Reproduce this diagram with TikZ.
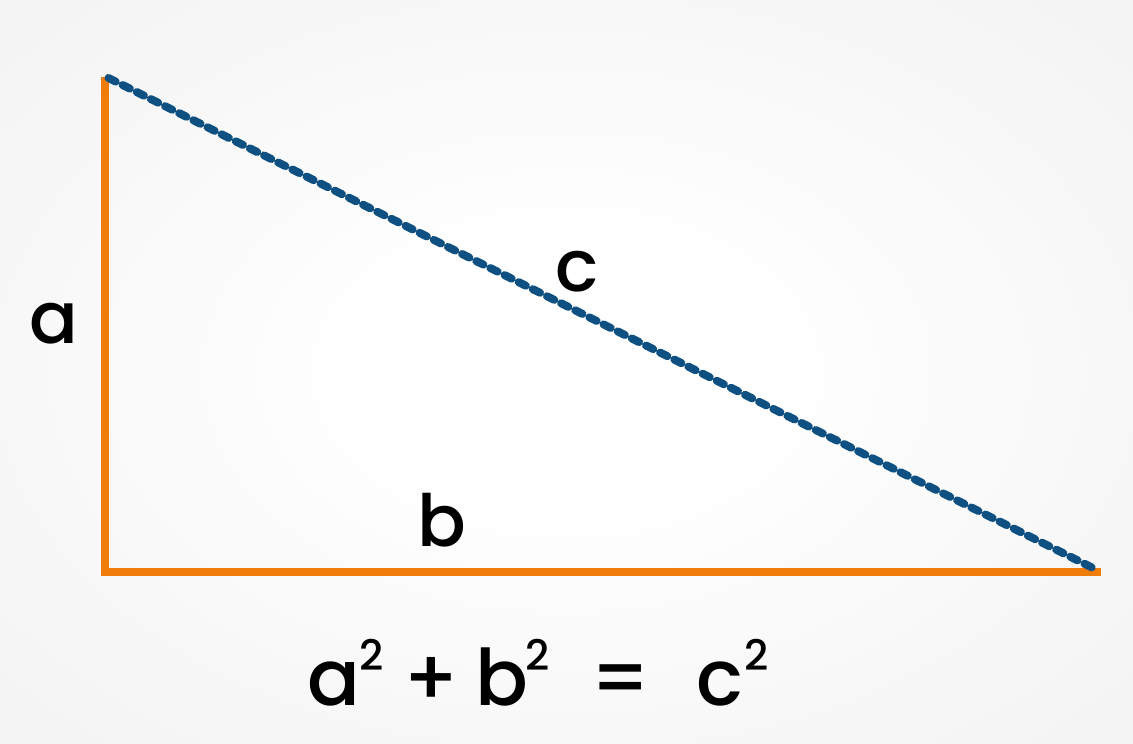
\documentclass[tikz,border=0pt]{standalone}
\usepackage{fontspec}
\setmainfont{Poppins}[UprightFont=* Medium]
\definecolor{legorange}{HTML}{F07D0A}
\definecolor{hypblue}{HTML}{0F5083}
\definecolor{bgedge}{HTML}{E8E8E8}
\pgfdeclareradialshading{bgshade}{\pgfpoint{0bp}{0bp}}{%
  color(0bp)=(white); color(8bp)=(white); color(50bp)=(bgedge!80!white); color(72bp)=(bgedge)}
\tikzset{
  leg/.style={draw=legorange, line width=8pt, line join=miter, line cap=butt},
  hyp/.style={draw=hypblue, line width=8pt, line cap=round, dash pattern=on 8pt off 7.8pt},
  lbl/.style={inner sep=0pt, anchor=base, font=\fontsize{72}{72}\selectfont},
  eq/.style={inner sep=0pt, anchor=base, font=\fontsize{78}{78}\selectfont},
  sup/.style={inner sep=0pt, anchor=base, font=\fontsize{42}{42}\selectfont},
}
\begin{document}
\begin{tikzpicture}[x=1pt, y=-1pt]
  \useasboundingbox (0,0) rectangle (1133,744);
  \shade[shading=bgshade] (0,0) rectangle (1133,744);
  \coordinate (A) at (104.8,77);
  \coordinate (B) at (104.8,572);
  \coordinate (C) at (1101,572);
  \coordinate (H1) at (108.5,78);
  \coordinate (H2) at (1097,570);
  \draw[leg] (A) -- (B) -- (C);
  \draw[hyp] (H1) -- (H2);
  \node[lbl] (la) at (54,343) {a};
  \node[lbl] (lb) at (442,546) {b};
  \node[lbl] (lc) at (577,291) {c};
  \node[eq] (ea) at (334,705) {a};
  \node[sup] (ea2) at (372,670) {2};
  \node[eq] (eplus) at (431,705) {+};
  \node[eq] (eb) at (502,705) {b};
  \node[sup] (eb2) at (538,670) {2};
  \node[eq] (eeq) at (621,705) {=};
  \node[eq] (ec) at (720,705) {c};
  \node[sup] (ec2) at (757,670) {2};
\end{tikzpicture}
\end{document}
